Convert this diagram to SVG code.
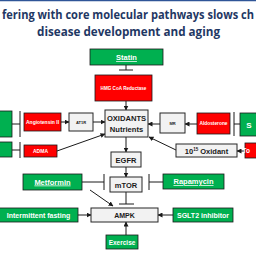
<svg xmlns="http://www.w3.org/2000/svg" width="256" height="256" viewBox="0 0 256 256">
<defs>
<style>
.g{fill:#00b050;stroke:#1a1a1a;stroke-width:0.8}
.r{fill:#ff0000;stroke:#1a1a1a;stroke-width:0.8}
.w{fill:#f2f2f2;stroke:#262626;stroke-width:1}
.wt{fill:#fff;font-family:"Liberation Sans",Arial,sans-serif;font-weight:bold;text-anchor:middle}
.bt{fill:#1a1a1a;font-family:"Liberation Sans",Arial,sans-serif;font-weight:bold;text-anchor:middle}
.ttl{fill:#1f3864;font-family:"Open Sans","Liberation Sans",sans-serif;font-weight:bold;font-size:12.5px}
.c{stroke:#1a1a1a;stroke-width:1;fill:none}
</style>
<marker id="ah" viewBox="0 0 10 10" refX="9" refY="5" markerWidth="5" markerHeight="5" orient="auto" markerUnits="userSpaceOnUse">
<path d="M0,0 L10,5 L0,10 z" fill="#1a1a1a"/>
</marker>
</defs>
<rect width="256" height="256" fill="#fff"/>
<line x1="0" y1="0.5" x2="256" y2="0.5" stroke="#2f5597" stroke-width="1.5"/>
<text class="ttl" x="2" y="19" textLength="252" lengthAdjust="spacingAndGlyphs">fering with core molecular pathways slows ch</text>
<text class="ttl" x="128.5" y="36" text-anchor="middle" textLength="183" lengthAdjust="spacingAndGlyphs">disease development and aging</text>

<g id="connectors">
<line class="c" x1="126" y1="65" x2="126" y2="70"/><line class="c" x1="119" y1="70" x2="133" y2="70"/>
<line class="c" x1="126" y1="101" x2="126" y2="110" marker-end="url(#ah)"/>
<line class="c" x1="126" y1="137" x2="126" y2="152" marker-end="url(#ah)"/>
<line class="c" x1="126" y1="167" x2="126" y2="177" marker-end="url(#ah)"/>
<line class="c" x1="126" y1="192" x2="126" y2="204"/><line class="c" x1="119" y1="204" x2="134" y2="204"/>
<line class="c" x1="82" y1="182" x2="104" y2="182"/><line class="c" x1="104" y1="174" x2="104" y2="190"/>
<line class="c" x1="163" y1="182" x2="149" y2="182"/><line class="c" x1="149" y1="174" x2="149" y2="190"/>
<line class="c" x1="90" y1="190" x2="113" y2="206" marker-end="url(#ah)"/>
<line class="c" x1="78" y1="215" x2="91" y2="215" marker-end="url(#ah)"/>
<line class="c" x1="173" y1="215" x2="158" y2="215" marker-end="url(#ah)"/>
<line class="c" x1="126" y1="235" x2="126" y2="222" marker-end="url(#ah)"/>
<line class="c" x1="12" y1="124" x2="20" y2="124"/><line class="c" x1="20" y1="111" x2="20" y2="137"/>
<line class="c" x1="12" y1="150" x2="20" y2="150"/><line class="c" x1="20" y1="142" x2="20" y2="158"/>
<line class="c" x1="61" y1="122" x2="69" y2="122" marker-end="url(#ah)"/>
<line class="c" x1="93" y1="122" x2="105" y2="122" marker-end="url(#ah)"/>
<line class="c" x1="57" y1="151" x2="105" y2="134" marker-end="url(#ah)"/>
<line class="c" x1="160" y1="124" x2="148" y2="124" marker-end="url(#ah)"/>
<line class="c" x1="197" y1="124" x2="185" y2="124" marker-end="url(#ah)"/>
<line class="c" x1="240" y1="124" x2="234" y2="124"/><line class="c" x1="234" y1="112" x2="234" y2="136"/>
<line class="c" x1="176" y1="150" x2="149" y2="137" marker-end="url(#ah)"/>
<line class="c" x1="245" y1="151" x2="237" y2="151" marker-end="url(#ah)"/>
</g>

<g id="statin"><rect class="g" x="90" y="49" width="73" height="16"/><text class="wt" x="126.5" y="60" font-size="7.5" text-decoration="underline">Statin</text></g>
<g id="hmg"><rect class="r" x="95" y="75" width="57" height="26"/><text class="wt" x="123.5" y="90" font-size="4.6">HMG CoA Reductase</text></g>
<g id="oxidants"><rect class="w" x="105" y="110" width="43" height="27"/><text class="bt" x="126.5" y="121" font-size="7.6">OXIDANTS</text><text class="bt" x="126.5" y="132" font-size="7.6">Nutrients</text></g>
<g id="egfr"><rect class="w" x="111" y="152" width="30" height="15"/><text class="bt" x="126" y="162.5" font-size="7.5">EGFR</text></g>
<g id="mtor"><rect class="w" x="110" y="177" width="32" height="15"/><text class="bt" x="126" y="187.5" font-size="7.5">mTOR</text></g>
<g id="ampk"><rect class="w" x="91" y="208" width="67" height="14"/><text class="bt" x="124.5" y="217.5" font-size="7">AMPK</text></g>
<g id="metformin"><rect class="g" x="23" y="174" width="59" height="16"/><text class="wt" x="52.5" y="184.5" font-size="7.5" text-decoration="underline">Metformin</text></g>
<g id="rapamycin"><rect class="g" x="163" y="174" width="61" height="15"/><text class="wt" x="193.5" y="184" font-size="7.5" text-decoration="underline">Rapamycin</text></g>
<g id="fasting"><rect class="g" x="-1" y="208" width="79" height="14"/><text class="wt" x="38.5" y="217.5" font-size="7">Intermittent fasting</text></g>
<g id="sglt2"><rect class="g" x="173" y="208" width="60" height="14"/><text class="wt" x="203" y="217.5" font-size="7">SGLT2 inhibitor</text></g>
<g id="exercise"><rect class="g" x="106" y="235" width="32" height="14"/><text class="wt" x="122" y="244.5" font-size="6.5">Exercise</text></g>
<g id="left-green-1"><rect class="g" x="-2" y="111" width="14" height="26"/></g>
<g id="left-green-2"><rect class="g" x="-2" y="142" width="14" height="15"/></g>
<g id="angiotensin"><rect class="r" x="24" y="113" width="37" height="18"/><text class="wt" x="42.5" y="123.8" font-size="5">Angiotensin II</text></g>
<g id="at1r"><rect class="w" x="69" y="113" width="24" height="18"/><text class="bt" x="81" y="123.8" font-size="4" font-weight="normal">AT1R</text></g>
<g id="adma"><rect class="r" x="24" y="145" width="33" height="12"/><text class="wt" x="40.5" y="153" font-size="5">ADMA</text></g>
<g id="mr"><rect class="w" x="160" y="113" width="25" height="20"/><text class="bt" x="172.5" y="124.5" font-size="4" font-weight="normal">MR</text></g>
<g id="aldosterone"><rect class="r" x="197" y="113" width="33" height="21"/><text class="wt" x="213.5" y="125" font-size="4.8">Aldosterone</text></g>
<g id="right-green"><rect class="g" x="240" y="113" width="18" height="23"/><text class="wt" x="249" y="127.5" font-size="8">S</text></g>
<g id="oxidant15"><rect class="w" x="176" y="144" width="61" height="13"/><text class="bt" x="206.5" y="153.5" font-size="7.5">10<tspan font-size="4.5" dy="-3">15</tspan><tspan dy="3"> Oxidant</tspan></text></g>
<g id="right-red"><rect class="r" x="245" y="143" width="13" height="15"/><text class="wt" x="246.3" y="153.3" font-size="6.5" text-anchor="start">To</text></g>
</svg>
